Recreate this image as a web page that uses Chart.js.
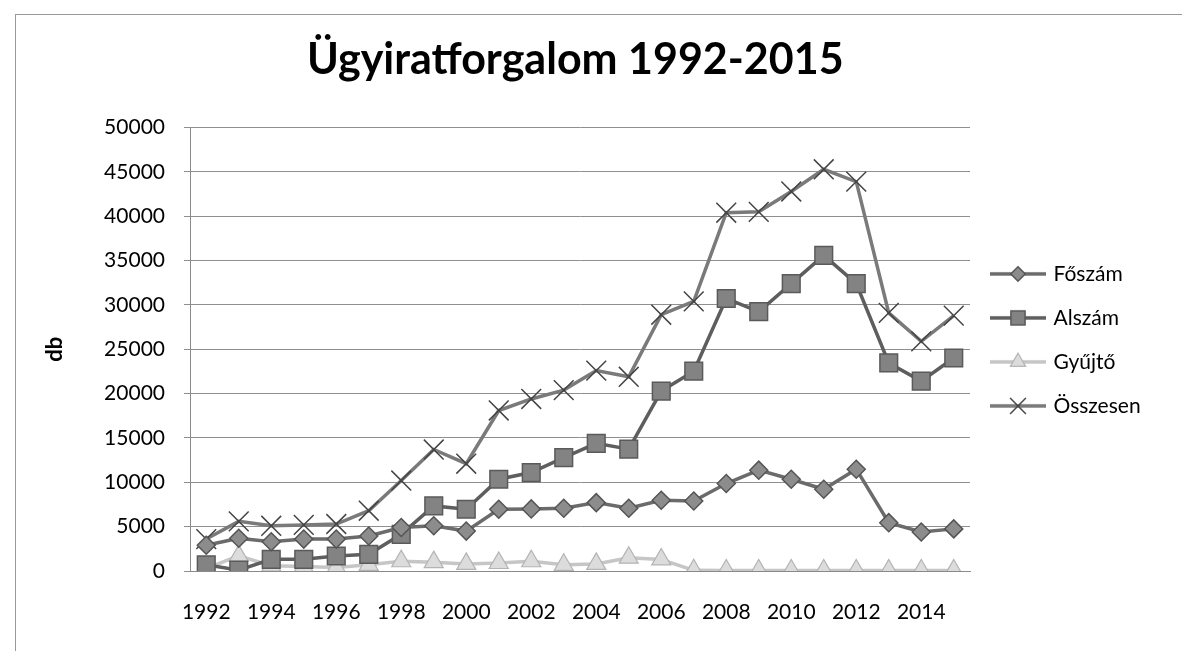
<!DOCTYPE html>
<html>
<head>
<meta charset="utf-8">
<script src="https://cdn.jsdelivr.net/npm/chart.js@4.4.1/dist/chart.umd.min.js"></script>
<style>
  html, body { margin:0; padding:0; background:#fff; overflow:hidden; }
  #wrap { position:relative; width:1182px; height:651px; }
  #frame { position:absolute; left:15px; top:14px; width:1300px; height:800px; border:1px solid #999; pointer-events:none; }
</style>
</head>
<body>
<div id="wrap">
  <canvas id="chart" width="1182" height="651"></canvas>
  <div id="frame"></div>
</div>
<script>
const years = ["1992","1993","1994","1995","1996","1997","1998","1999","2000","2001","2002","2003",
               "2004","2005","2006","2007","2008","2009","2010","2011","2012","2013","2014","2015"];
const foszam    = [2900, 3700, 3300, 3600, 3600, 3950, 4900, 5100, 4500, 6960, 7000, 7080,
                   7710, 7080, 7980, 7900, 9860, 11370, 10350, 9220, 11480, 5450, 4400, 4750];
const alszam    = [700, 100, 1320, 1320, 1690, 1880, 4140, 7340, 6960, 10350, 11100, 12790,
                   14400, 13740, 20290, 22530, 30730, 29240, 32410, 35590, 32410, 23460, 21410, 24020];
const gyujto    = [300, 1700, 600, 500, 400, 700, 1100, 1000, 800, 900, 1100, 700,
                   800, 1500, 1300, 80, 60, 60, 60, 60, 60, 60, 60, 60];
const osszesen  = [3600, 5600, 5100, 5200, 5300, 6800, 10200, 13700, 12100, 18100, 19400, 20400,
                   22600, 21900, 28900, 30400, 40400, 40500, 42800, 45300, 43900, 29100, 25900, 28800];
const yTicks = [0, 5000, 10000, 15000, 20000, 25000, 30000, 35000, 40000, 45000, 50000];

const FONT = "Lato, 'Open Sans', sans-serif";

const series = [
  { label:"Főszám",   data:foszam,   line:"#6b6b6b", fill:"#8c8c8c", edge:"#555", style:"rectRot", radius:9,  bw:1.5 },
  { label:"Alszám",   data:alszam,   line:"#5e5e5e", fill:"#838383", edge:"#5a5a5a", style:"rect", radius:12.5, bw:1.5 },
  { label:"Gyűjtő",   data:gyujto,   line:"#c6c6c6", fill:"#dcdcdc", edge:"#b4b4b4", style:"triangle", radius:11, bw:1.2 },
  { label:"Összesen", data:osszesen, line:"#7a7a7a", fill:"#444", edge:"#444", style:"crossRot", radius:14, bw:1.5 }
];

// legend symbol: short line with the marker in the middle
function legendSymbol(s){
  const c = document.createElement("canvas");
  c.width = 58; c.height = 26;
  const ctx = c.getContext("2d");
  ctx.strokeStyle = s.line; ctx.lineWidth = 3.5;
  ctx.beginPath(); ctx.moveTo(1, 13); ctx.lineTo(57, 13); ctx.stroke();
  ctx.fillStyle = s.fill; ctx.strokeStyle = s.edge; ctx.lineWidth = s.bw;
  Chart.helpers.drawPoint(ctx, { pointStyle:s.style, radius:s.radius*0.8, rotation:0, borderWidth:s.bw }, 29, 13);
  return c;
}

const datasets = series.map(s => ({
  label: s.label,
  data: s.data,
  borderColor: s.line,
  backgroundColor: s.fill,
  borderWidth: 3.5,
  pointStyle: s.style,
  pointRadius: s.radius,
  pointBackgroundColor: s.fill,
  pointBorderColor: s.edge,
  pointBorderWidth: s.bw,
  tension: 0,
  symbol: legendSymbol(s)
}));

const chart = new Chart(document.getElementById("chart"), {
  type: "line",
  data: { labels: years, datasets },
  options: {
    responsive: false,
    animation: false,
    layout: { padding: { left:0, right:20, top:0, bottom:0 } },
    plugins: {
      title: {
        display: true,
        text: "Ügyiratforgalom 1992-2015",
        color: "#000",
        font: { family: FONT, size: 43, weight: "bold" },
        padding: { top: 34, bottom: 42 }
      },
      legend: {
        position: "right",
        title: { display: true, text: " ", font: { size: 4 }, padding: 12 },
        labels: {
          usePointStyle: true,
          pointStyleWidth: 50,
          padding: 23,
          color: "#000",
          font: { family: FONT, size: 21 },
          generateLabels: (ch) => ch.data.datasets.map((d, i) => ({
            text: d.label,
            pointStyle: d.symbol,
            fillStyle: d.backgroundColor,
            strokeStyle: d.borderColor,
            lineWidth: 0,
            fontColor: "#000",
            datasetIndex: i
          }))
        }
      },
      tooltip: { enabled: false }
    },
    scales: {
      x: {
        offset: true,
        grid: { display: false },
        border: { display: true, color: "#8a8a8a", width: 1 },
        afterFit: (s) => { s.height = 80; },
        ticks: {
          autoSkip: false,
          maxRotation: 0,
          padding: 21,
          color: "#000",
          font: { family: FONT, size: 21 },
          callback: (v, i) => i % 2 === 0 ? years[i] : ""
        }
      },
      y: {
        min: 0,
        max: 50000,
        afterFit: (s) => { s.width = 190; },
        afterBuildTicks: (s) => { s.ticks = yTicks.map(v => ({ value: v })); },
        grid: { color: "#8f8f8f", lineWidth: 1, tickLength: 6, tickColor: "#8f8f8f" },
        border: { display: true, color: "#8a8a8a", width: 1 },
        title: {
          display: true,
          text: "db",
          color: "#000",
          font: { family: FONT, size: 22, weight: "bold" },
          padding: { top: 42, bottom: 0 }
        },
        ticks: {
          padding: 19,
          color: "#000",
          font: { family: FONT, size: 21 },
          callback: (v) => String(v)
        }
      }
    }
  }
});

// keep the plot's right edge where the reference has it
const dx = chart.chartArea.right - 970;
if (Math.abs(dx) > 0.5) {
  chart.options.layout.padding.right += dx;
  chart.update();
}
</script>
</body>
</html>
